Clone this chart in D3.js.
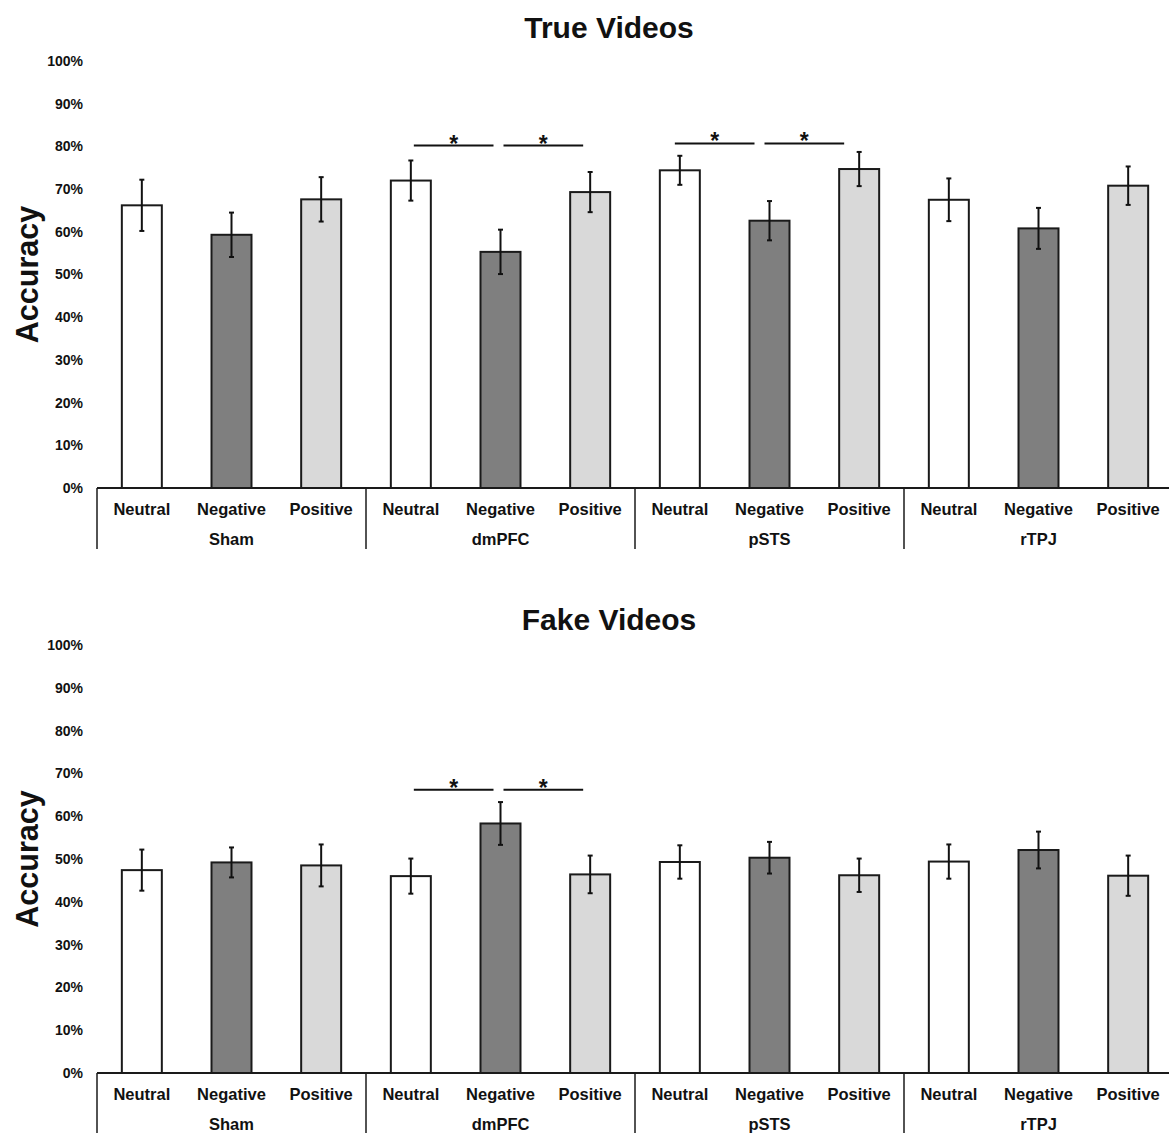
<!DOCTYPE html>
<html>
<head>
<meta charset="utf-8">
<script src="https://cdn.jsdelivr.net/npm/d3@7"></script>
<style>
  body { margin: 0; background: #fff; }
  text { font-family: "Liberation Sans", Arial, sans-serif; font-weight: bold; fill: #111; }
</style>
</head>
<body>
<div id="chart"></div>
<script>
// data (accuracy in %)
const regions = ["Sham", "dmPFC", "pSTS", "rTPJ"];
const conditions = ["Neutral", "Negative", "Positive"];
const yTicks = [0, 10, 20, 30, 40, 50, 60, 70, 80, 90, 100];

const trueMeans = [66.2, 59.3, 67.6, 72.0, 55.3, 69.3, 74.4, 62.6, 74.7, 67.5, 60.8, 70.8];
const trueErr   = [6.0, 5.2, 5.2, 4.7, 5.2, 4.7, 3.4, 4.6, 4.0, 5.0, 4.8, 4.5];
const fakeMeans = [47.4, 49.2, 48.5, 46.0, 58.3, 46.4, 49.3, 50.3, 46.2, 49.4, 52.1, 46.1];
const fakeErr   = [4.8, 3.5, 4.9, 4.1, 5.0, 4.4, 3.9, 3.7, 3.9, 4.0, 4.3, 4.7];

// significance brackets: region, from, to, level (%)
const trueSig = [
  ["dmPFC", "Neutral", "Negative", 80.2],
  ["dmPFC", "Negative", "Positive", 80.2],
  ["pSTS", "Neutral", "Negative", 80.7],
  ["pSTS", "Negative", "Positive", 80.7]
];
const fakeSig = [
  ["dmPFC", "Neutral", "Negative", 66.2],
  ["dmPFC", "Negative", "Positive", 66.2]
];

const fills = { Neutral: "#ffffff", Negative: "#7f7f7f", Positive: "#d9d9d9" };

const width = 1169, height = 1133;
const svg = d3.select("#chart").append("svg")
  .attr("width", width)
  .attr("height", height);

const keys = regions.flatMap(r => conditions.map(c => r + "|" + c));
const x = d3.scaleBand()
  .domain(keys)
  .range([97, 97 + 269 * 4])
  .paddingInner(0.554)
  .paddingOuter(0.277);
const center = k => x(k) + x.bandwidth() / 2;

function panel(title, means, errs, sigs, top, bottom, titleY, sepEnd, sigShift) {
  const y = d3.scaleLinear().domain([0, 100]).range([bottom, top]);
  const g = svg.append("g");
  const rows = keys.map((k, i) => ({ key: k, region: k.split("|")[0], cond: k.split("|")[1], v: means[i], e: errs[i] }));

  g.append("text")
    .attr("x", 609).attr("y", titleY)
    .attr("dy", "0.35em")
    .attr("text-anchor", "middle")
    .style("font-size", "30px")
    .text(title);

  g.append("text")
    .attr("transform", `translate(27,${(top + bottom) / 2}) rotate(-90)`)
    .attr("dy", "0.35em")
    .attr("text-anchor", "middle")
    .style("font-size", "30.5px")
    .text("Accuracy");

  g.selectAll(".ytick")
    .data(yTicks)
    .join("text")
    .attr("class", "ytick")
    .attr("x", 83)
    .attr("y", d => y(d))
    .attr("dy", "0.35em")
    .attr("text-anchor", "end")
    .style("font-size", "14px")
    .text(d => d + "%");

  g.selectAll(".bar")
    .data(rows)
    .join("rect")
    .attr("class", "bar")
    .attr("x", d => x(d.key))
    .attr("y", d => y(d.v))
    .attr("width", x.bandwidth())
    .attr("height", d => y(0) - y(d.v))
    .attr("fill", d => fills[d.cond])
    .attr("stroke", "#1a1a1a")
    .attr("stroke-width", 2);

  const eb = g.selectAll(".err").data(rows).join("g").attr("class", "err")
    .attr("stroke", "#111").attr("stroke-width", 2);
  eb.append("line")
    .attr("x1", d => center(d.key)).attr("x2", d => center(d.key))
    .attr("y1", d => y(d.v + d.e)).attr("y2", d => y(d.v - d.e));
  eb.append("line")
    .attr("x1", d => center(d.key) - 2.5).attr("x2", d => center(d.key) + 2.5)
    .attr("y1", d => y(d.v + d.e)).attr("y2", d => y(d.v + d.e));
  eb.append("line")
    .attr("x1", d => center(d.key) - 2.5).attr("x2", d => center(d.key) + 2.5)
    .attr("y1", d => y(d.v - d.e)).attr("y2", d => y(d.v - d.e));

  // x axis line and group separators
  g.append("line")
    .attr("x1", 97).attr("x2", width)
    .attr("y1", y(0)).attr("y2", y(0))
    .attr("stroke", "#1a1a1a").attr("stroke-width", 2);

  const step = x.step();
  g.selectAll(".sep")
    .data(regions)
    .join("line")
    .attr("class", "sep")
    .attr("x1", r => x(r + "|Neutral") - step * x.paddingOuter())
    .attr("x2", r => x(r + "|Neutral") - step * x.paddingOuter())
    .attr("y1", y(0)).attr("y2", sepEnd)
    .attr("stroke", "#1a1a1a").attr("stroke-width", 1.5);

  g.selectAll(".cat")
    .data(rows)
    .join("text")
    .attr("class", "cat")
    .attr("x", d => center(d.key))
    .attr("y", y(0) + 21)
    .attr("dy", "0.35em")
    .attr("text-anchor", "middle")
    .style("font-size", "16.5px")
    .text(d => d.cond);

  g.selectAll(".grp")
    .data(regions)
    .join("text")
    .attr("class", "grp")
    .attr("x", r => center(r + "|Negative"))
    .attr("y", y(0) + 51)
    .attr("dy", "0.35em")
    .attr("text-anchor", "middle")
    .style("font-size", "16.5px")
    .text(r => r);

  const sg = g.selectAll(".sig").data(sigs).join("g").attr("class", "sig");
  const sx1 = d => center(d[0] + "|" + d[1]) + 3 - (sigShift[d[0]] || 0);
  const sx2 = d => center(d[0] + "|" + d[2]) - 7 - (sigShift[d[0]] || 0);
  sg.append("line")
    .attr("x1", sx1).attr("x2", sx2)
    .attr("y1", d => y(d[3])).attr("y2", d => y(d[3]))
    .attr("stroke", "#111").attr("stroke-width", 2);
  sg.append("text")
    .attr("x", d => (sx1(d) + sx2(d)) / 2)
    .attr("y", d => y(d[3]) + 6)
    .attr("text-anchor", "middle")
    .style("font-size", "23px")
    .text("*");
}

panel("True Videos", trueMeans, trueErr, trueSig, 61, 488, 27, 549, { pSTS: 8 });
panel("Fake Videos", fakeMeans, fakeErr, fakeSig, 645, 1073, 619, 1133, {});
</script>
</body>
</html>
